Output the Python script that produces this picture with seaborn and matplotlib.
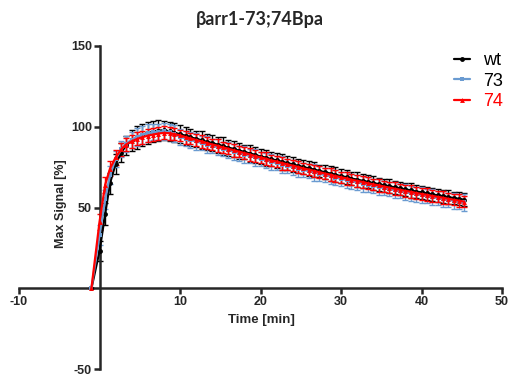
import numpy as np
import pandas as pd
import matplotlib
matplotlib.use("Agg")
import matplotlib.pyplot as plt
import seaborn as sns

time_min = [-1, 0, 0.7, 1.3, 2, 2.7, 3.3, 4, 4.7, 5.3,
            6, 6.7, 7.3, 8, 8.7, 9.3, 10, 10.7, 11.3, 12,
            12.7, 13.3, 14, 14.7, 15.3, 16, 16.7, 17.3, 18, 18.7,
            19.3, 20, 20.7, 21.3, 22, 22.7, 23.3, 24, 24.7, 25.3,
            26, 26.7, 27.3, 28, 28.7, 29.3, 30, 30.7, 31.3, 32,
            32.7, 33.3, 34, 34.7, 35.3, 36, 36.7, 37.3, 38, 38.7,
            39.3, 40, 40.7, 41.3, 42, 42.7, 43.3, 44, 44.7, 45.3]

wt = [0, 23, 46, 65, 77, 84, 88.5, 91.5, 93.5, 95,
      96.2, 97, 97.6, 97.8, 97.2, 96.4, 95.3, 94.5, 93.4, 92.6,
      91.6, 90.7, 89.9, 88.9, 88.1, 87.0, 86.3, 85.2, 84.5, 83.4,
      82.7, 81.5, 80.9, 79.9, 79.2, 78.3, 77.5, 76.7, 75.8, 75.1,
      74.2, 73.5, 72.6, 71.9, 71.0, 70.3, 69.4, 68.8, 67.9, 67.3,
      66.5, 65.9, 65.1, 64.5, 63.7, 63.2, 62.4, 61.9, 61.2, 60.6,
      59.9, 59.4, 58.7, 58.2, 57.5, 57.0, 56.4, 55.9, 55.3, 54.8]
s73 = [0, 33, 55, 70, 80, 86, 89.5, 92, 93.8, 95,
       96, 96.6, 97, 97.1, 96.6, 95.8, 93.6, 92.7, 91.7, 90.9,
       89.8, 89.0, 88.1, 87.2, 86.3, 85.4, 84.5, 83.6, 82.8, 81.8,
       81.0, 80.0, 79.2, 78.3, 77.5, 76.6, 75.8, 74.9, 74.1, 73.3,
       72.5, 71.7, 70.9, 70.1, 69.3, 68.5, 67.7, 67.0, 66.2, 65.5,
       64.8, 64.1, 63.4, 62.7, 62.0, 61.4, 60.7, 60.1, 59.4, 58.8,
       58.2, 57.6, 57.0, 56.4, 55.8, 55.3, 54.7, 54.2, 53.6, 53.1]
s74 = [0, 41, 64, 74, 81, 86, 89, 91, 92.5, 93.5,
       94.5, 95.2, 95.8, 96.2, 96.0, 95.5, 94.6, 93.6, 92.8, 91.8,
       90.9, 90.0, 89.0, 88.2, 87.2, 86.4, 85.4, 84.6, 83.7, 82.8,
       81.9, 81.0, 80.2, 79.2, 78.5, 77.5, 76.8, 75.9, 75.1, 74.2,
       73.5, 72.6, 71.9, 71.0, 70.3, 69.5, 68.7, 68.0, 67.2, 66.5,
       65.8, 65.1, 64.3, 63.7, 63.0, 62.3, 61.6, 61.0, 60.3, 59.7,
       59.0, 58.4, 57.8, 57.2, 56.6, 56.0, 55.4, 54.8, 54.2, 53.6]

wt_sem = [0, 6, 7, 6.5, 6, 6, 6, 6.5, 7, 7,
          7, 6.5, 6.5, 6, 6, 6, 5.5, 5.5, 5.5, 5,
          5.5, 5, 5, 5, 5.5, 5, 5, 5, 4.5, 5,
          5, 4.5, 5, 4.5, 4.5, 5, 4.5, 4.5, 4.5, 4.5,
          4.5, 4.5, 4, 4.5, 4.5, 4.5, 4.5, 4.5, 4, 4.5,
          4.5, 4, 4.5, 4, 4, 4.5, 4, 4, 4, 4.5,
          4, 4, 4, 4, 4, 4, 4.5, 4, 4, 4]
s73_sem = [0, 6, 6, 5.5, 5, 5, 5, 5, 5.5, 5.5,
           5.5, 5, 5, 5, 5, 5, 5, 4.5, 5, 5,
           4.5, 5, 4.5, 5, 4.5, 5, 5, 4.5, 5, 4.5,
           5, 4.5, 4.5, 5, 4.5, 5, 4.5, 4.5, 5, 4.5,
           4.5, 5, 4.5, 4.5, 5, 4.5, 4.5, 5, 4.5, 4.5,
           5, 4.5, 4.5, 5, 4.5, 4.5, 5, 4.5, 5, 4.5,
           4.5, 5, 4.5, 5, 4.5, 5, 4.5, 5, 4.5, 5]
s74_sem = [0, 5, 5, 4.5, 4.5, 4, 4, 4, 4, 4,
           4, 4, 4, 4, 4, 4, 3.5, 4, 3.5, 3.5,
           4, 3.5, 3.5, 4, 3.5, 3.5, 4, 3.5, 3.5, 4,
           3.5, 3.5, 4, 3.5, 3.5, 4, 3.5, 3.5, 4, 3.5,
           3.5, 4, 3.5, 3.5, 4, 3.5, 3.5, 4, 3.5, 3.5,
           4, 3.5, 3.5, 4, 3.5, 3.5, 4, 3.5, 3.5, 4,
           3.5, 3.5, 4, 3.5, 3.5, 4, 3.5, 3.5, 4, 3.5]

series_names = ["wt", "73", "74"]
x_ticks = [-10, 10, 20, 30, 40, 50]
y_ticks = [-50, 50, 100, 150]

sns.set_style("ticks")
plt.rcParams['font.family'] = ['Liberation Sans', 'DejaVu Sans']
plt.rcParams['axes.unicode_minus'] = False

colors = {"wt": "#000000", "73": "#6A9BD1", "74": "#FF0000"}
markers = {"wt": "o", "73": "s", "74": "^"}
values = {"wt": wt, "73": s73, "74": s74}
sems = {"wt": wt_sem, "73": s73_sem, "74": s74_sem}

df = pd.concat([pd.DataFrame({"Time": time_min, "Signal": values[n], "SEM": sems[n], "Series": n})
                for n in series_names], ignore_index=True)

fig = plt.figure(figsize=(5.13, 3.83), dpi=100)
ax = fig.add_axes([19/513, 1 - 369/383, (502-19)/513, (369-46)/383])

for n in series_names:
    d = df[df.Series == n]
    ax.errorbar(d.Time, d.Signal, yerr=d.SEM, fmt='none', ecolor=colors[n],
                elinewidth=1.0, capsize=2.5, capthick=1.0, zorder=2)
    sns.lineplot(data=d, x="Time", y="Signal", color=colors[n], marker=markers[n],
                 markersize=3.5, markeredgewidth=0, linewidth=1.6, ax=ax, label=n,
                 zorder=3)

ax.set_xlim(-10, 50)
ax.set_ylim(-50, 150)
ax.spines['left'].set_position(('data', 0))
ax.spines['bottom'].set_position(('data', 0))
ax.spines['top'].set_visible(False)
ax.spines['right'].set_visible(False)
for s in ['left', 'bottom']:
    ax.spines[s].set_linewidth(1.8)
ax.set_xticks(x_ticks)
ax.set_yticks(y_ticks)
ax.tick_params(axis='both', length=4, width=1.8, labelsize=9, pad=1.5)
for lab in ax.get_xticklabels() + ax.get_yticklabels():
    lab.set_fontweight('bold')

ax.set_xlabel("Time [min]", fontsize=9.5, fontweight='bold')
ax.set_ylabel("Max Signal [%]", fontsize=9, fontweight='bold')
ax.xaxis.set_label_coords((261-19)/483, (369-314)/323)
ax.yaxis.set_label_coords((67-19)/483, (369-204)/323)

fig.text(260/513, 1 - 19/383, "βarr1-73;74Bpa", ha='center', va='center',
         fontsize=13, fontweight='bold', family=['Lato', 'DejaVu Sans'])

leg = ax.legend(loc='upper left', bbox_to_anchor=(454/513, 1 - 52/383),
                bbox_transform=fig.transFigure, frameon=False, fontsize=13,
                handlelength=0.9, handletextpad=0.7, labelspacing=0.2,
                borderaxespad=0, borderpad=0)
for t, n in zip(leg.get_texts(), series_names):
    t.set_color(colors[n] if n == "74" else "black")

fig.savefig("out.png", dpi=100)
